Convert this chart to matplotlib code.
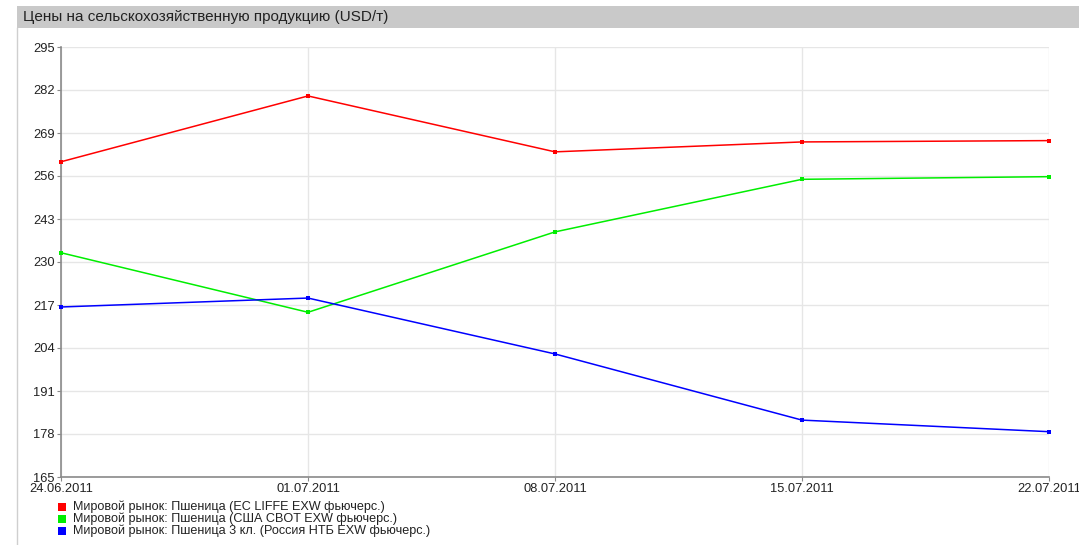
import matplotlib
matplotlib.use("Agg")
import matplotlib.pyplot as plt
from matplotlib.lines import Line2D
from matplotlib.patches import Rectangle
import pandas as pd

plt.rcParams["font.family"] = ["Liberation Sans", "DejaVu Sans"]

dates = pd.to_datetime(["2011-06-24", "2011-07-01", "2011-07-08", "2011-07-15", "2011-07-22"])
date_labels = ["24.06.2011", "01.07.2011", "08.07.2011", "15.07.2011", "22.07.2011"]

eu_liffe = [260.3, 280.2, 263.3, 266.3, 266.7]
us_cbot = [232.8, 214.8, 239.1, 255.0, 255.8]
ru_ntb = [216.4, 219.1, 202.2, 182.2, 178.7]

series_labels = [
    "Мировой рынок: Пшеница (ЕС LIFFE EXW фьючерс.)",
    "Мировой рынок: Пшеница (США CBOT EXW фьючерс.)",
    "Мировой рынок: Пшеница 3 кл. (Россия НТБ EXW фьючерс.)",
]
series_colors = ["#ff0000", "#00ee00", "#0000ff"]

y_ticks = list(range(165, 296, 13))
title = "Цены на сельскохозяйственную продукцию (USD/т)"

W, H = 1079, 545
fig = plt.figure(figsize=(W / 100, H / 100), dpi=100)
fig.patch.set_facecolor("white")

# header bar and panel border
fig.patches.append(Rectangle((17 / W, 1 - 28 / H), 1 - 17 / W, 22 / H,
                             transform=fig.transFigure, facecolor="#c9c9c9",
                             edgecolor="none", zorder=0))
fig.add_artist(Line2D([17 / W, 17 / W], [0, 1 - 28 / H], transform=fig.transFigure,
                      color="#cfcfcf", lw=1))
fig.text(23 / W, 1 - 17 / H, title, fontsize=11, color="#222222", va="center", ha="left")

ax = fig.add_axes([61 / W, 1 - 477 / H, (1049 - 61) / W, (477 - 47) / H])
for vals, col in zip([eu_liffe, us_cbot, ru_ntb], series_colors):
    ax.plot(dates, vals, color=col, lw=1.1, marker="s", markersize=3.4,
            markeredgewidth=0, zorder=3, clip_on=False)

ax.set_xlim(dates[0], dates[-1])
ax.set_ylim(165, 295)
ax.set_yticks(y_ticks)
ax.set_xticks(dates)
ax.set_xticklabels(date_labels)
ax.grid(True, color="#e6e6e6", lw=1)
ax.set_axisbelow(True)
for s in ["top", "right"]:
    ax.spines[s].set_visible(False)
for s in ["left", "bottom"]:
    ax.spines[s].set_color("#8a8a8a")
    ax.spines[s].set_linewidth(1.2)
ax.tick_params(axis="both", length=3, width=0.8, color="#8a8a8a",
               labelsize=9.3, labelcolor="#222222", pad=1.5)

# legend rows drawn by hand to match the tight spacing
for i, (lab, col) in enumerate(zip(series_labels, series_colors)):
    yc = 1 - (507 + 12 * i) / H
    fig.add_artist(Line2D([62 / W], [yc], transform=fig.transFigure, ls="none",
                          marker="s", markersize=5.5, color=col, markeredgewidth=0))
    fig.text(73 / W, yc, lab, fontsize=9.1, color="#222222", va="center", ha="left")

fig.savefig("out.png", dpi=100)
